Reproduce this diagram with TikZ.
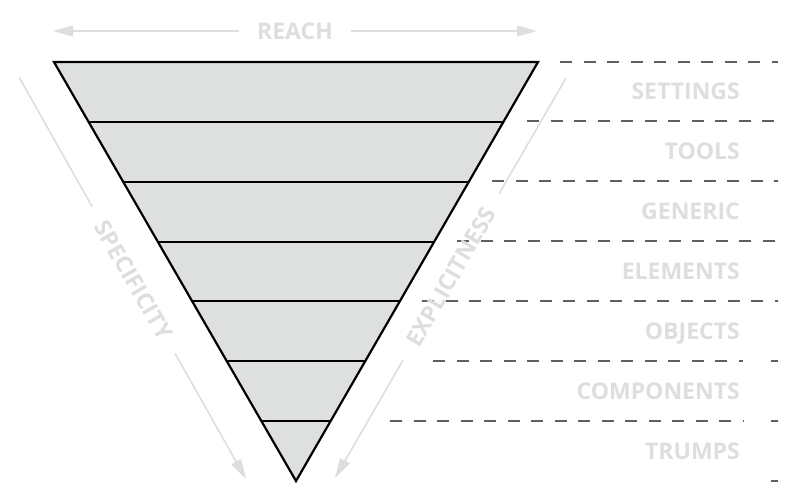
\documentclass[tikz,border=0pt]{standalone}
\usepackage{fontspec}
\usepackage{tikz}
\usetikzlibrary{arrows.meta, calc}
\newfontfamily\labelfont{Open Sans}
\definecolor{cFill}{RGB}{222,224,223}
\definecolor{cLabel}{RGB}{220,223,222}
\definecolor{cDash}{RGB}{95,95,95}
\tikzset{
	layer/.style     ={fill=cFill, draw=black, line width=2.2pt},
	rung/.style      ={black, line width=2pt},
	guide/.style     ={cDash, line width=1.3pt, dash pattern=on 12pt off 11.5pt},
	% axis arrows and their labels
	axisline/.style  ={cLabel, line width=1.6pt},
	axisarrow/.style ={-{Triangle[length=20pt, width=11pt]}, cLabel, line width=1.6pt},
	axislabel/.style ={font=\labelfont\bfseries\fontsize{23}{24}\selectfont, text=cLabel, inner ysep=0pt, inner xsep=18pt},
	levellabel/.style={font=\labelfont\bfseries\fontsize{23}{24}\selectfont, text=cLabel, inner sep=0pt, anchor=base east},
}
\begin{document}
\begin{tikzpicture}[x=1pt, y=-1pt]
	\useasboundingbox (0,0) rectangle (800,500);
	% funnel
	\coordinate (topL) at (54,62);
	\coordinate (topR) at (538,62);
	\coordinate (apex) at (296,481);
	\filldraw[layer] (topL) -- (topR) -- (apex) -- cycle;
	\foreach \k in {1,...,6}
		\draw[rung] ($(topL)!\k/7!(apex)$) -- ($(topR)!\k/7!(apex)$);
	% dashed guides to the level names
	\foreach \y/\xa/\xb in {62/560/778, 121/527/780, 181/492/778, 241/457/778, 301/422/778, 361/433/743, 421/390/743}
		\draw[guide] (\xa,\y) -- (\xb,\y);
	\foreach \y in {361,421,481}
		\draw[guide] (771,\y) -- (778,\y);
	\foreach \t [count=\i] in {SETTINGS, TOOLS, GENERIC, ELEMENTS, OBJECTS, COMPONENTS, TRUMPS}
		\node[levellabel] (lvl\i) at (740, {62+(\i-0.5)*59.86+8}) {\t};
	% reach
	\node[axislabel] (reach) at (295,31) {REACH};
	\coordinate (reachL) at (53,31);
	\coordinate (reachR) at (537,31);
	\draw[axisarrow] (reach) -- (reachL);
	\draw[axisarrow] (reach) -- (reachR);
	% specificity
	\node[axislabel, rotate=-60] (spec) at (133.5,280) {SPECIFICITY};
	\coordinate (specA) at (19,77);
	\coordinate (specB) at (246,479);
	\draw[axisline] (spec) -- (specA);
	\draw[axisarrow] (spec) -- (specB);
	% explicitness
	\node[axislabel, rotate=60] (expl) at (451,277) {EXPLICITNESS};
	\coordinate (explA) at (566,78);
	\coordinate (explB) at (335,478);
	\draw[axisline] (expl) -- (explA);
	\draw[axisarrow] (expl) -- (explB);
\end{tikzpicture}
\end{document}
